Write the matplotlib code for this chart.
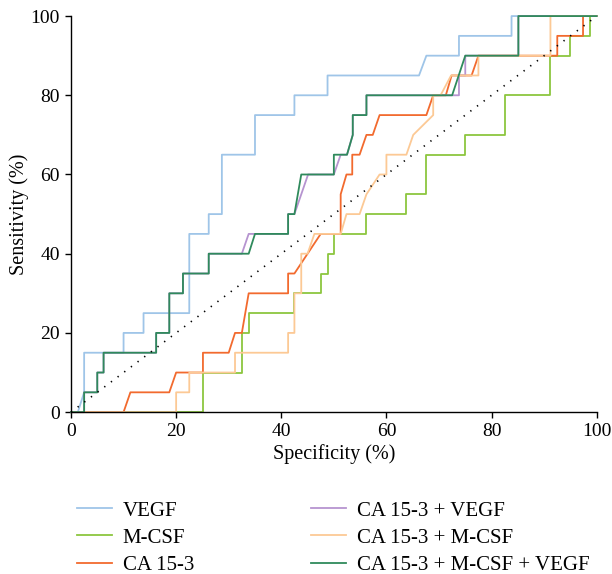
import matplotlib
matplotlib.use('Agg')
import matplotlib.pyplot as plt

# ROC curves (specificity %, sensitivity %)
vegf_x = [0, 1.3, 2.5, 2.5, 10, 10, 13.8, 13.8, 22.5, 22.5, 26.2, 26.2, 28.7, 28.7, 35, 35,
          42.5, 42.5, 48.8, 48.8, 66.2, 67.6, 73.8, 73.8, 83.8, 83.8, 100]
vegf_y = [0, 0, 5, 15, 15, 20, 20, 25, 25, 45, 45, 50, 50, 65, 65, 75,
          75, 80, 80, 85, 85, 90, 90, 95, 95, 100, 100]

mcsf_x = [0, 25.1, 25.1, 32.5, 32.5, 33.8, 33.8, 42.5, 42.5, 47.5, 47.5, 48.8, 48.8, 50, 50,
          56.2, 56.2, 63.8, 63.8, 67.6, 67.6, 75, 75, 82.5, 82.5, 91.2, 91.2, 95, 95,
          98.7, 98.7, 100]
mcsf_y = [0, 0, 10, 10, 20, 20, 25, 25, 30, 30, 35, 35, 40, 40, 45,
          45, 50, 50, 55, 55, 65, 65, 70, 70, 80, 80, 90, 90, 95,
          95, 100, 100]

ca_x = [0, 10, 11.3, 18.7, 20, 25.1, 25.1, 30, 31.2, 32.5, 33.8, 41.3, 41.3, 42.5, 47.5,
        51.3, 51.3, 52.4, 53.5, 53.5, 54.9, 56.2, 57.4, 58.7, 67.6, 68.9, 71.3, 72.4,
        76.2, 77.5, 92.5, 92.5, 97.4, 97.4, 100]
ca_y = [0, 0, 5, 5, 10, 10, 15, 15, 20, 20, 30, 30, 35, 35, 45,
        45, 55, 60, 60, 65, 65, 70, 70, 75, 75, 80, 80, 85,
        85, 90, 90, 95, 95, 100, 100]

ca_vegf_x = [0, 2.5, 2.5, 5, 5, 6.2, 6.2, 16.2, 16.2, 18.7, 18.7, 21.3, 21.3, 26.2, 26.2,
             32.5, 33.8, 41.3, 41.3, 42.5, 45.1, 50, 51.3, 52.5, 53.6, 53.6, 56.2, 56.2,
             73.8, 73.8, 75, 75, 85.1, 85.1, 100]
ca_vegf_y = [0, 0, 5, 5, 10, 10, 15, 15, 20, 20, 30, 30, 35, 35, 40,
             40, 45, 45, 50, 50, 60, 60, 65, 65, 70, 75, 75, 80,
             80, 85, 85, 90, 90, 100, 100]

ca_mcsf_x = [0, 20, 20, 22.5, 22.5, 31.2, 31.2, 41.3, 41.3, 42.5, 42.5, 43.8, 43.8, 45,
             46.3, 51.3, 52.4, 54.9, 56.2, 58.7, 60, 60, 63.8, 65.1, 68.9, 68.9, 70.3,
             72.3, 77.5, 77.5, 91.2, 91.2, 100]
ca_mcsf_y = [0, 0, 5, 5, 10, 10, 15, 15, 20, 20, 30, 30, 40, 40,
             45, 45, 50, 50, 55, 60, 60, 65, 65, 70, 75, 80, 80,
             85, 85, 90, 90, 100, 100]

ca_mcsf_vegf_x = [0, 2.5, 2.5, 5, 5, 6.2, 6.2, 16.2, 16.2, 18.7, 18.7, 21.3, 21.3, 26.2, 26.2,
                  33.8, 35, 41.3, 41.3, 42.5, 43.8, 50, 50, 52.5, 53.6, 53.6, 56.2, 56.2,
                  72.5, 75, 85.1, 85.1, 100]
ca_mcsf_vegf_y = [0, 0, 5, 5, 10, 10, 15, 15, 20, 20, 30, 30, 35, 35, 40,
                  40, 45, 45, 50, 50, 60, 60, 65, 65, 70, 75, 75, 80,
                  80, 90, 90, 100, 100]

labels = ['VEGF', 'M-CSF', 'CA 15-3', 'CA 15-3 + VEGF', 'CA 15-3 + M-CSF',
          'CA 15-3 + M-CSF + VEGF']
colors = ['#9fc5e8', '#8cc63f', '#f26a2e', '#b694d0', '#fcc995', '#2f8a5c']
curves = [(vegf_x, vegf_y), (mcsf_x, mcsf_y), (ca_x, ca_y), (ca_vegf_x, ca_vegf_y),
          (ca_mcsf_x, ca_mcsf_y), (ca_mcsf_vegf_x, ca_mcsf_vegf_y)]

plt.rcParams['font.family'] = ['Liberation Serif', 'DejaVu Serif']

fig = plt.figure(figsize=(6.12, 5.74), dpi=100)
ax = fig.add_axes([0.116, 0.282, 0.859, 0.690])

for (x, y), c, lab in zip(curves, colors, labels):
    ax.plot(x, y, color=c, lw=1.3, label=lab, clip_on=False)

# reference line
ax.plot([0, 100], [0, 100], color='black', lw=1.2, ls=(0, (0.8, 4.2)), clip_on=False)

ax.set_xlim(0, 100)
ax.set_ylim(0, 100)
ax.set_xticks(range(0, 101, 20))
ax.set_yticks(range(0, 101, 20))
ax.spines['top'].set_visible(False)
ax.spines['right'].set_visible(False)
for s in ['left', 'bottom']:
    ax.spines[s].set_linewidth(1.0)
ax.tick_params(direction='out', length=4, width=1.0, labelsize=14, pad=4)
ax.set_xlabel('Specificity (%)', fontsize=14.5, labelpad=3)
ax.set_ylabel('Sensitivity (%)', fontsize=14.5, labelpad=1)

fig.legend(loc='upper left', bbox_to_anchor=(77 / 612, 0.127), ncol=2, frameon=False,
           fontsize=15, handlelength=1.7, columnspacing=5.6, labelspacing=0.36,
           handletextpad=0.5, borderpad=0, borderaxespad=0)

fig.savefig('out.png', dpi=100)
